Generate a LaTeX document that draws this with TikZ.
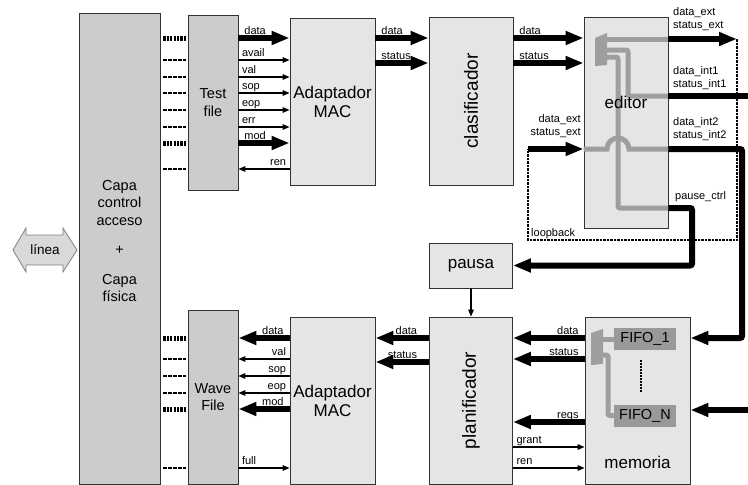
\documentclass[tikz,border=0pt]{standalone}
\usepackage{fontspec}
\setmainfont{Liberation Sans}
\usetikzlibrary{arrows.meta, positioning}

\begin{document}
\begin{tikzpicture}[
    x=1pt, y=-1pt,
    block/.style={
        draw=black!80, fill=black!10, line width=0.8pt,
        rectangle, inner sep=0pt, align=center,
        font=\fontsize{17}{19}\selectfont
    },
    darkblock/.style={
        block, fill=black!20,
        font=\fontsize{14.5}{17.5}\selectfont
    },
    fifo/.style={
        fill=black!40, rectangle, inner sep=0pt,
        minimum width=62pt, minimum height=22pt,
        font=\fontsize{14.5}{17}\selectfont
    },
    sig/.style={-{Triangle[length=7pt, width=5.5pt]}, line width=1.2pt},
    bus/.style={-{Triangle[length=18pt, width=13pt]}, line width=6pt},
    wire/.style={line width=6pt},
    lbl/.style={font=\fontsize{11}{13.5}\selectfont, inner sep=0pt,
        anchor=base west, xshift=3pt, yshift=3.5pt},
    rlbl/.style={font=\fontsize{11}{13.5}\selectfont, inner sep=0pt,
        anchor=base east, xshift=-3pt, yshift=3.5pt},
    twolbl/.style={font=\fontsize{11}{13.5}\selectfont, inner sep=0pt, align=left},
    link/.style={line width=1.2pt, dash pattern=on 3.5pt off 1.5pt,
        shorten <=3pt, shorten >=2pt},
    widelink/.style={line width=5pt, dash pattern=on 2.2pt off 1.2pt,
        shorten <=3pt, shorten >=2pt},
    gpath/.style={draw=black!38, line width=5pt},
    mux/.style={fill=black!38},
    loopline/.style={line width=1.8pt, dash pattern=on 2.5pt off 1pt},
    vtext/.style={rotate=90, font=\fontsize{19}{21}\selectfont},
]
\useasboundingbox (0,0) rectangle (748,485);

% Physical side
\node[darkblock, minimum width=81pt, minimum height=471pt] (capa) at (119.5,248.5) {};
\node[font=\fontsize{14.5}{17.5}\selectfont, align=center] (capatext) at (119.5,241)
    {Capa\\control\\acceso\\[12pt]+\\[12pt]Capa\\física};

\filldraw[draw=black!50, fill=black!15, line width=0.8pt]
    (13,250) -- (26,228) -- (26,235) -- (63,235) -- (63,228) -- (77,250)
    -- (63,272) -- (63,265) -- (26,265) -- (26,272) -- cycle;
\node[font=\fontsize{13.5}{16}\selectfont] (linea) at (45,250) {línea};

% Top row: transmit side
\node[darkblock, minimum width=50pt, minimum height=175pt] (testfile) at (213,102.5) {Test\\file};
\node[block, minimum width=85pt, minimum height=167pt] (adapt1) at (332.5,101.5) {Adaptador\\MAC};
\node[block, minimum width=84pt, minimum height=168pt,
    label={[vtext]center:clasificador}] (clasif) at (471,101) {};
\node[block, minimum width=84pt, minimum height=211pt] (editor) at (626,122.5) {};

% Middle
\node[block, minimum width=83pt, minimum height=45pt] (pausa) at (471,265.5) {pausa};

% Bottom row: receive side
\node[darkblock, minimum width=50pt, minimum height=174pt] (wavefile) at (213,397) {Wave\\File};
\node[block, minimum width=85pt, minimum height=167pt] (adapt2) at (332.5,400.5) {Adaptador\\MAC};
\node[block, minimum width=83pt, minimum height=167pt,
    label={[vtext]center:planificador}] (planif) at (471,400.5) {};
\node[block, minimum width=105pt, minimum height=167pt] (memoria) at (637.5,400.5) {};
\node[font=\fontsize{17}{19}\selectfont] (memoriatext) at (637.5,462) {memoria};

% Editor internals
\fill[mux] (595,38) -- (607,33) -- (607,65) -- (595,66) -- cycle;
\draw[gpath] (607,39) -- (editor.east |- 0,39);
\draw[gpath, rounded corners=2pt] (607,50) -- (628,50) -- (628,96) -- (editor.east |- 0,96);
\draw[gpath, rounded corners=2pt] (607,57) -- (618,57) -- (618,208) -- (editor.east |- 0,208);
\draw[gpath] (editor.west |- 0,149) -- (607,149)
    arc[start angle=180, end angle=0, radius=11pt] -- (editor.east |- 0,149);
\node[font=\fontsize{17}{19}\selectfont] (editortext) at (626,102) {editor};

% Memoria internals
\node[fifo] (fifo1) at (645,339) {FIFO\_1};
\node[fifo] (fifon) at (645,415.5) {FIFO\_N};
\fill[mux] (591,333) -- (603,329) -- (603,364) -- (591,365) -- cycle;
\draw[gpath] (603,339) -- (fifo1.west);
\draw[gpath, rounded corners=2pt] (603,355) -- (608,355) -- (608,415.5) -- (fifon.west);
\draw[line width=2pt, dash pattern=on 1.5pt off 1.5pt] (fifo1.south) ++(-4,10) -- ++(0,32);

% Capa <-> Test file
\draw[widelink] (capa.east |- 0,38) -- (testfile.west |- 0,38);
\draw[link] (capa.east |- 0,60) -- (testfile.west |- 0,60);
\draw[link] (capa.east |- 0,77) -- (testfile.west |- 0,77);
\draw[link] (capa.east |- 0,93) -- (testfile.west |- 0,93);
\draw[link] (capa.east |- 0,110) -- (testfile.west |- 0,110);
\draw[link] (capa.east |- 0,127) -- (testfile.west |- 0,127);
\draw[widelink] (capa.east |- 0,143) -- (testfile.west |- 0,143);
\draw[link] (capa.east |- 0,169) -- (testfile.west |- 0,169);

% Test file -> Adaptador MAC
\draw[bus] (testfile.east |- 0,38) -- (adapt1.west |- 0,38) node[lbl, pos=0] {data};
\draw[sig] (testfile.east |- 0,60) -- (adapt1.west |- 0,60) node[lbl, pos=0] {avail};
\draw[sig] (testfile.east |- 0,77) -- (adapt1.west |- 0,77) node[lbl, pos=0] {val};
\draw[sig] (testfile.east |- 0,93) -- (adapt1.west |- 0,93) node[lbl, pos=0] {sop};
\draw[sig] (testfile.east |- 0,110) -- (adapt1.west |- 0,110) node[lbl, pos=0] {eop};
\draw[sig] (testfile.east |- 0,127) -- (adapt1.west |- 0,127) node[lbl, pos=0] {err};
\draw[bus] (testfile.east |- 0,143) -- (adapt1.west |- 0,143) node[lbl, pos=0] {mod};
\draw[sig] (adapt1.west |- 0,169) -- (testfile.east |- 0,169) node[rlbl, pos=0] {ren};

% Adaptador MAC -> clasificador -> editor
\draw[bus] (adapt1.east |- 0,38) -- (clasif.west |- 0,38) node[lbl, pos=0] {data};
\draw[bus] (adapt1.east |- 0,63) -- (clasif.west |- 0,63) node[lbl, pos=0] {status};
\draw[bus] (clasif.east |- 0,38) -- (editor.west |- 0,38) node[lbl, pos=0] {data};
\draw[bus] (clasif.east |- 0,63) -- (editor.west |- 0,63) node[lbl, pos=0] {status};

% Editor outputs
\coordinate (extend) at (737,39);
\coordinate (loopin) at (528,149);
\draw[bus] (editor.east |- 0,39) -- (extend);
\node[twolbl, anchor=south west] (extlbl) at (673,31) {data\_ext\\status\_ext};
\draw[wire] (editor.east |- 0,96) -- (748,96);
\node[twolbl, anchor=south west] (int1lbl) at (673,90) {data\_int1\\status\_int1};
\draw[bus, rounded corners=2pt] (editor.east |- 0,149) -| (742,338) -- (memoria.east |- 0,338);
\node[twolbl, anchor=south west] (int2lbl) at (673,141) {data\_int2\\status\_int2};
\draw[bus, rounded corners=2pt] (editor.east |- 0,208) -- (692,208) |- (pausa.east);
\node[twolbl, anchor=base west] (pauselbl) at (675,199) {pause\_ctrl};

% Loopback
\draw[loopline] (extend) -- (extend |- 0,240) -| (loopin);
\draw[bus] (loopin) -- (editor.west |- loopin);
\node[twolbl, align=right, anchor=south east] (looplbl) at (581,138) {data\_ext\\status\_ext};
\node[twolbl, anchor=base west] (loopback) at (531,236) {loopback};

% pausa -> planificador
\draw[sig] (pausa.south) -- (planif.north);

% memoria <-> planificador
\draw[bus] (memoria.west |- 0,338) -- (planif.east |- 0,338) node[rlbl, pos=0] {data};
\draw[bus] (memoria.west |- 0,359) -- (planif.east |- 0,359) node[rlbl, pos=0] {status};
\draw[bus] (memoria.west |- 0,422) -- (planif.east |- 0,422) node[rlbl, pos=0] {reqs};
\draw[sig] (planif.east |- 0,447) -- (memoria.west |- 0,447) node[lbl, pos=0] {grant};
\draw[sig] (planif.east |- 0,468) -- (memoria.west |- 0,468) node[lbl, pos=0] {ren};
\draw[bus] (748,410) -- (memoria.east |- 0,410);

% planificador -> Adaptador MAC
\draw[bus] (planif.west |- 0,338) -- (adapt2.east |- 0,338) node[rlbl, pos=0, xshift=-6pt] {data};
\draw[bus] (planif.west |- 0,362) -- (adapt2.east |- 0,362) node[rlbl, pos=0, xshift=-6pt] {status};

% Adaptador MAC -> Wave File
\draw[bus] (adapt2.west |- 0,338) -- (wavefile.east |- 0,338) node[rlbl, pos=0] {data};
\draw[sig] (adapt2.west |- 0,359) -- (wavefile.east |- 0,359) node[rlbl, pos=0] {val};
\draw[sig] (adapt2.west |- 0,376) -- (wavefile.east |- 0,376) node[rlbl, pos=0] {sop};
\draw[sig] (adapt2.west |- 0,393) -- (wavefile.east |- 0,393) node[rlbl, pos=0] {eop};
\draw[bus] (adapt2.west |- 0,409) -- (wavefile.east |- 0,409) node[rlbl, pos=0] {mod};
\draw[sig] (wavefile.east |- 0,468) -- (adapt2.west |- 0,468) node[lbl, pos=0] {full};

% Capa <-> Wave File
\draw[widelink] (capa.east |- 0,338) -- (wavefile.west |- 0,338);
\draw[link] (capa.east |- 0,359) -- (wavefile.west |- 0,359);
\draw[link] (capa.east |- 0,376) -- (wavefile.west |- 0,376);
\draw[link] (capa.east |- 0,393) -- (wavefile.west |- 0,393);
\draw[widelink] (capa.east |- 0,409) -- (wavefile.west |- 0,409);
\draw[link] (capa.east |- 0,468) -- (wavefile.west |- 0,468);

\end{tikzpicture}
\end{document}
